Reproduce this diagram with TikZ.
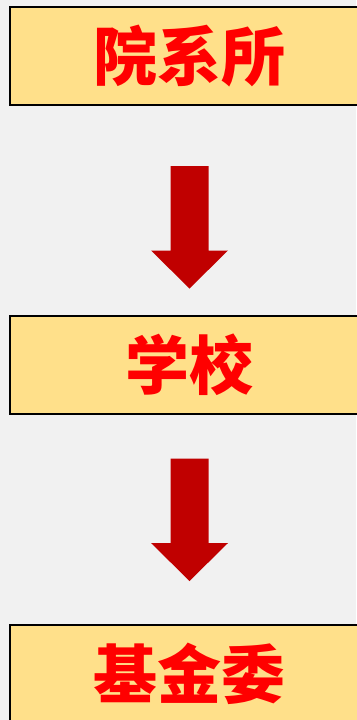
\documentclass[tikz,border=0pt]{standalone}
\usepackage{fontspec}
\newfontfamily\cjk{Noto Sans CJK SC}
\usetikzlibrary{calc}
\definecolor{boxyellow}{HTML}{FFE08A}
\definecolor{textred}{HTML}{FF0000}
\definecolor{arrowred}{HTML}{C00000}
\definecolor{bggrey}{HTML}{F1F1F1}

\begin{document}
\begin{tikzpicture}[x=1pt,y=-1pt,
	levelbox/.style={draw=black,line width=2pt,fill=boxyellow,minimum width=360pt,minimum height=98pt,inner sep=0pt,
		font=\cjk\bfseries\fontsize{64}{64}\selectfont,text=textred}]
	\fill[bggrey] (0,0) rectangle (356,720);
	\useasboundingbox (0,0) rectangle (356,720);
	\foreach \name/\label/\ypos in {yxs/院系所/56, xx/学校/364.5, jjw/基金委/674} {
		\node[levelbox] (\name) at (189.5,\ypos) {\label};
	}
	\foreach \from/\to/\gapa/\gapb in {yxs/xx/60/26, xx/jjw/44/43} {
		\coordinate (top) at ($(\from.south)+(0,\gapa)$);
		\coordinate (tip) at ($(\to.north)+(0,-\gapb)$);
		\fill[arrowred] ($(top)+(-19,0)$) -- ($(top)+(19,0)$) -- ($(tip)+(19,-38)$) -- ($(tip)+(38.5,-38)$)
			-- (tip) -- ($(tip)+(-38.5,-38)$) -- ($(tip)+(-19,-38)$) -- cycle;
	}
\end{tikzpicture}
\end{document}
